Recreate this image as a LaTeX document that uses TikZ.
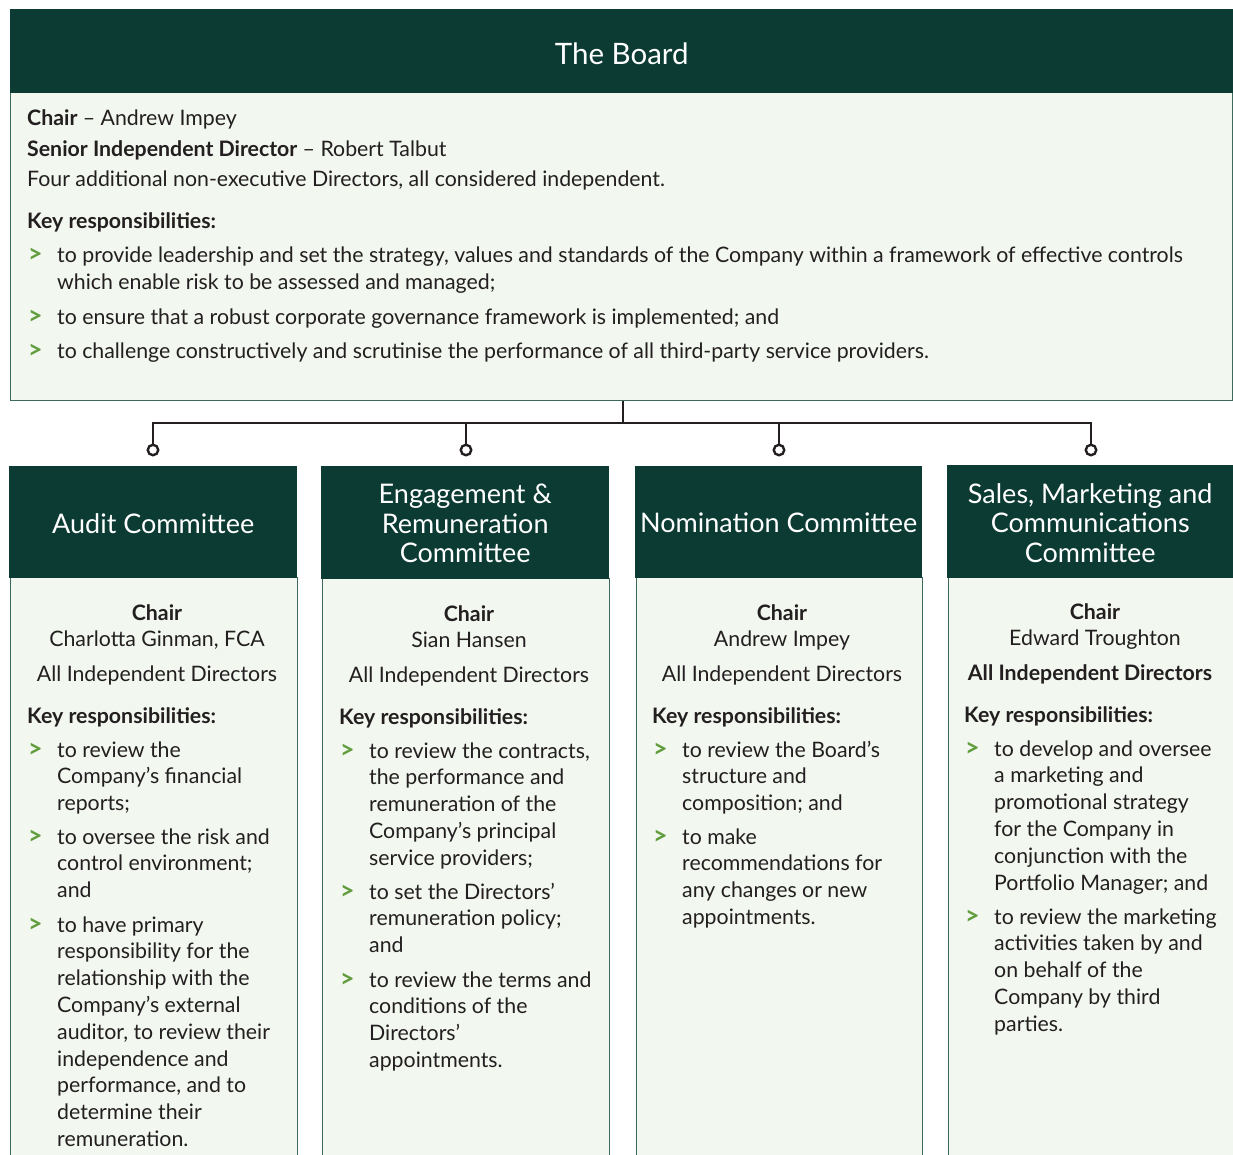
\documentclass[tikz,border=0pt]{standalone}
\usepackage{fontspec}
\setmainfont{Lato}
\definecolor{dkgreen}{HTML}{0B3B33}
\definecolor{ltgreen}{HTML}{F2F7EF}
\definecolor{bulgreen}{HTML}{5E9C3C}
\definecolor{txtcol}{HTML}{231F20}
\definecolor{edgecol}{HTML}{3E6A5E}
\newcommand\lftlines[1]{\begin{tabular}[t]{@{}l@{}}#1\end{tabular}}
\newcommand\ctrlines[1]{\begin{tabular}[t]{@{}c@{}}#1\end{tabular}}
\tikzset{
  hdrbox/.style={fill=dkgreen, draw=none, anchor=north west, inner sep=0},
  bodybox/.style={fill=ltgreen, draw=edgecol, line width=1pt, anchor=north west, inner sep=0},
  hdrtext/.style={text=white, font=\fontsize{27}{29.5}\selectfont, align=center, inner sep=0, yshift=-1pt},
  txt/.style={anchor=base west, inner sep=0, text=txtcol, font=\fontsize{21.3}{26.8}\selectfont, yshift=-2pt},
  ctr/.style={anchor=base, inner sep=0, text=txtcol, font=\fontsize{21.3}{26.8}\selectfont, yshift=-2pt},
  bul/.style={anchor=base west, inner sep=0, text=bulgreen, font=\bfseries\fontsize{25}{26.8}\selectfont, yshift=-2pt},
  conn/.style={line width=2.6pt, draw=txtcol},
  knob/.style={circle, draw=txtcol, fill=white, line width=2.4pt, minimum size=10.5pt, inner sep=0}
}
\begin{document}
\begin{tikzpicture}[x=1pt,y=-1pt]
\useasboundingbox (0,0) rectangle (1233,1155);
\clip (0,0) rectangle (1233,1155);
% Board
\node[bodybox, minimum width=1222pt, minimum height=308pt] (board) at (10,92) {};
\node[hdrbox, minimum width=1223pt, minimum height=84pt] (boardh) at (10,9) {};
\node[hdrtext, font=\fontsize{29.5}{31}\selectfont, yshift=-2pt] (boardt) at (boardh.center) {The Board};
\node[txt] (b1) at (27,124) {\textbf{Chair} – Andrew Impey};
\node[txt] (b2) at (27,155) {\textbf{Senior Independent Director} – Robert Talbut};
\node[txt] (b3) at (27,185) {Four additional non-executive Directors, all considered independent.};
\node[txt] (b4) at (27,227) {\textbf{Key responsibilities:}};
\node[bul] (bb1) at (28,261) {>};
\node[txt] (bt1) at (57,261) {\lftlines{to provide leadership and set the strategy, values and standards of the Company within a framework of effective controls\\which enable risk to be assessed and managed;}};
\node[bul] (bb2) at (28,322) {>};
\node[txt] (bt2) at (57,322) {to ensure that a robust corporate governance framework is implemented; and};
\node[bul] (bb3) at (28,356) {>};
\node[txt] (bt3) at (57,356) {to challenge constructively and scrutinise the performance of all third-party service providers.};

% Committee boxes
\node[bodybox, minimum width=287pt, minimum height=620pt] (c1) at (10,577) {};
\node[hdrbox, minimum width=288pt, minimum height=112pt] (h1) at (9,466) {};
\node[bodybox, minimum width=287pt, minimum height=620pt] (c2) at (322,578) {};
\node[hdrbox, minimum width=288pt, minimum height=113pt] (h2) at (321,466) {};
\node[bodybox, minimum width=286pt, minimum height=620pt] (c3) at (636,577) {};
\node[hdrbox, minimum width=287pt, minimum height=112pt] (h3) at (635,466) {};
\node[bodybox, minimum width=286pt, minimum height=620pt] (c4) at (948,577) {};
\node[hdrbox, minimum width=286pt, minimum height=113pt] (h4) at (947,465) {};

\node[hdrtext] (t1) at (h1.center) {Audit Committee};
\node[hdrtext] (t2) at (h2.center) {Engagement \&\\Remuneration\\Committee};
\node[hdrtext] (t3) at (h3.center) {Nomination Committee};
\node[hdrtext] (t4) at (h4.center) {Sales, Marketing and\\Communications\\Committee};

% Connectors
\node[knob] (k1) at (153,450) {};
\node[knob] (k2) at (466,450) {};
\node[knob] (k3) at (779,450) {};
\node[knob] (k4) at (1091,450) {};
\coordinate (j) at (623,423);
\draw[conn] (j |- board.south) -- (j);
\draw[conn] (k1.north) -- (k1 |- j) -- (k4 |- j) -- (k4.north);
\draw[conn] (k2.north) -- (k2 |- j);
\draw[conn] (k3.north) -- (k3 |- j);

% Audit
\node[ctr] (a1) at (157,618) {\ctrlines{\textbf{Chair}\\Charlotta Ginman, FCA}};
\node[ctr] (a2) at (157,679) {All Independent Directors};
\node[txt] (a3) at (27,721) {\textbf{Key responsibilities:}};
\node[bul] (ab1) at (28,755) {>};
\node[txt] (at1) at (57,755) {\lftlines{to review the\\Company’s financial\\reports;}};
\node[bul] (ab2) at (28,842) {>};
\node[txt] (at2) at (57,842) {\lftlines{to oversee the risk and\\control environment;\\and}};
\node[bul] (ab3) at (28,930) {>};
\node[txt] (at3) at (57,930) {\lftlines{to have primary\\responsibility for the\\relationship with the\\Company’s external\\auditor, to review their\\independence and\\performance, and to\\determine their\\remuneration.}};

% Engagement
\node[ctr] (e1) at (469,619) {\ctrlines{\textbf{Chair}\\Sian Hansen}};
\node[ctr] (e2) at (469,680) {All Independent Directors};
\node[txt] (e3) at (339,722) {\textbf{Key responsibilities:}};
\node[bul] (eb1) at (340,756) {>};
\node[txt] (et1) at (369,756) {\lftlines{to review the contracts,\\the performance and\\remuneration of the\\Company’s principal\\service providers;}};
\node[bul] (eb2) at (340,897) {>};
\node[txt] (et2) at (369,897) {\lftlines{to set the Directors’\\remuneration policy;\\and}};
\node[bul] (eb3) at (340,985) {>};
\node[txt] (et3) at (369,985) {\lftlines{to review the terms and\\conditions of the\\Directors’\\appointments.}};

% Nomination
\node[ctr] (n1) at (782,618) {\ctrlines{\textbf{Chair}\\Andrew Impey}};
\node[ctr] (n2) at (782,679) {All Independent Directors};
\node[txt] (n3) at (652,721) {\textbf{Key responsibilities:}};
\node[bul] (nb1) at (653,755) {>};
\node[txt] (nt1) at (682,755) {\lftlines{to review the Board’s\\structure and\\composition; and}};
\node[bul] (nb2) at (653,842) {>};
\node[txt] (nt2) at (682,842) {\lftlines{to make\\recommendations for\\any changes or new\\appointments.}};

% Sales
\node[ctr] (s1) at (1095,617) {\ctrlines{\textbf{Chair}\\Edward Troughton}};
\node[ctr] (s2) at (1090,678) {\textbf{All Independent Directors}};
\node[txt] (s3) at (964,720) {\textbf{Key responsibilities:}};
\node[bul] (sb1) at (965,754) {>};
\node[txt] (st1) at (994,754) {\lftlines{to develop and oversee\\a marketing and\\promotional strategy\\for the Company in\\conjunction with the\\Portfolio Manager; and}};
\node[bul] (sb2) at (965,922) {>};
\node[txt] (st2) at (994,922) {\lftlines{to review the marketing\\activities taken by and\\on behalf of the\\Company by third\\parties.}};
\end{tikzpicture}
\end{document}
